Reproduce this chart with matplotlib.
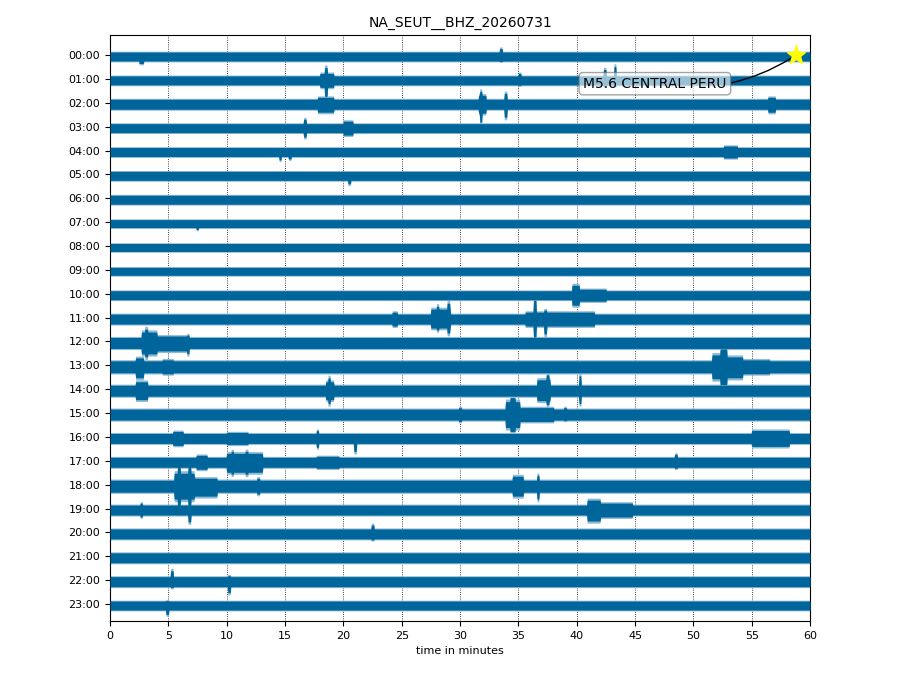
import numpy as np
import matplotlib
matplotlib.use("Agg")
import matplotlib.pyplot as plt

# station / day shown
title = "NA_SEUT__BHZ_20260731"
hour_labels = ["%02d:00" % h for h in range(24)]

# typical half-width of the noise band for each hour (pixel-ish units, 24 = one row)
baseline = [4.5, 4.5, 5.0, 4.5, 4.5, 4.5, 4.5, 4.0, 4.0, 4.0, 4.5, 5.0,
            5.5, 6.0, 5.5, 5.5, 5.0, 5.0, 6.0, 5.0, 5.0, 5.0, 5.0, 4.5]

# bursts: hour, start min, end min, up, down
bursts = [
    (0, 2.5, 2.9, 4, 7), (0, 33.4, 33.6, 8, 5),
    (1, 18.0, 19.2, 7, 7), (1, 18.4, 18.6, 13, 16),
    (1, 35.0, 35.2, 7, 5), (1, 42.3, 42.5, 11, 6), (1, 43.2, 43.4, 14, 6),
    (2, 17.8, 19.2, 7, 8), (2, 31.6, 32.2, 9, 9), (2, 31.7, 31.9, 13, 18),
    (2, 33.8, 34.0, 11, 13), (2, 56.4, 57.0, 7, 8),
    (3, 16.6, 16.8, 9, 9), (3, 20.0, 20.8, 7, 7),
    (4, 14.5, 14.7, 4, 8), (4, 15.3, 15.5, 4, 7), (4, 52.6, 53.8, 6, 6),
    (5, 20.4, 20.6, 4, 8),
    (7, 7.4, 7.6, 4, 6),
    (10, 39.6, 40.2, 10, 10), (10, 40.2, 42.5, 6, 6),
    (11, 24.2, 24.6, 7, 7), (11, 27.5, 29.2, 10, 9), (11, 28.0, 28.2, 13, 11),
    (11, 28.9, 29.1, 16, 14), (11, 35.6, 41.5, 7, 7), (11, 36.3, 36.5, 19, 18),
    (11, 37.2, 37.4, 9, 15),
    (12, 2.7, 4.0, 11, 11), (12, 3.0, 3.2, 14, 14), (12, 4.0, 6.8, 7, 8),
    (12, 6.6, 6.8, 8, 11),
    (13, 2.2, 2.9, 9, 11), (13, 4.5, 5.4, 7, 7), (13, 51.6, 52.3, 12, 12),
    (13, 52.3, 52.9, 18, 18), (13, 52.9, 54.2, 10, 11), (13, 54.2, 56.5, 7, 7),
    (14, 2.2, 3.2, 9, 9), (14, 18.5, 19.2, 9, 9), (14, 18.7, 18.9, 13, 13),
    (14, 36.6, 37.7, 11, 10), (14, 37.4, 37.6, 16, 14), (14, 40.2, 40.4, 15, 13),
    (15, 29.9, 30.1, 7, 7), (15, 33.9, 35.1, 13, 13), (15, 34.3, 34.7, 17, 17),
    (15, 35.1, 38.0, 7, 7), (15, 38.9, 39.1, 7, 6),
    (16, 5.4, 6.3, 7, 7), (16, 10.0, 11.8, 6, 6), (16, 17.7, 17.9, 8, 9),
    (16, 20.9, 21.1, 5, 13), (16, 55.0, 58.2, 8, 8),
    (17, 7.4, 8.3, 7, 7), (17, 10.0, 13.1, 9, 10), (17, 10.4, 10.6, 11, 12),
    (17, 11.6, 11.8, 11, 12), (17, 17.7, 19.6, 6, 6), (17, 48.4, 48.6, 8, 6),
    (18, 5.5, 7.2, 13, 13), (18, 5.8, 6.0, 20, 21), (18, 6.7, 6.9, 20, 21),
    (18, 7.2, 9.2, 8, 10), (18, 12.6, 12.8, 8, 8), (18, 34.5, 35.4, 10, 10),
    (18, 36.6, 36.8, 11, 13),
    (19, 2.6, 2.8, 7, 7), (19, 6.7, 6.9, 5, 12), (19, 40.9, 42.0, 10, 11),
    (19, 42.0, 44.8, 7, 7),
    (20, 22.4, 22.6, 9, 6),
    (22, 5.2, 5.4, 11, 6), (22, 10.1, 10.3, 6, 11),
    (23, 4.8, 5.0, 5, 9),
]

# event marker
event_label = "M5.6 CENTRAL PERU"
event_hour = 0
event_minute = 58.8

row_px = 24.0
offset = 1.5
minutes = np.arange(0, 60.001, 0.05)

fig = plt.figure(figsize=(9.2, 6.9), dpi=100)
ax = fig.add_axes([0.1196, 0.1, 0.7609, 0.8493])

for h in range(24):
    up = np.full(minutes.shape, baseline[h])
    dn = np.full(minutes.shape, baseline[h])
    for bh, t0, t1, bu, bd in bursts:
        if bh != h:
            continue
        m = (minutes >= t0) & (minutes <= t1)
        up[m] = np.maximum(up[m], bu)
        dn[m] = np.maximum(dn[m], bd)
    centre = h + offset / row_px
    ax.fill_between(minutes, centre - up * 1.2 / row_px, centre + dn * 1.2 / row_px,
                    color="#8dbbd6", lw=0, zorder=2)
    ax.fill_between(minutes, centre - up / row_px, centre + dn / row_px,
                    color="#00659a", lw=0, zorder=3)

for x in range(5, 60, 5):
    ax.axvline(x, color="black", ls=":", lw=0.6, zorder=1)

ax.plot(event_minute, event_hour, marker="*", color="yellow", ms=14,
        mec="yellow", zorder=6, ls="none")
ax.annotate(event_label, xy=(event_minute, event_hour), xytext=(46.7, 1.2),
            ha="center", va="center", fontsize=10, zorder=7,
            bbox=dict(boxstyle="round", fc="white", ec="0.4", alpha=0.6),
            arrowprops=dict(arrowstyle="-", color="black", lw=1,
                            connectionstyle="arc3,rad=0.2",
                            shrinkA=0, shrinkB=5))

ax.set_xlim(0, 60)
ax.set_ylim(23.71, -0.84)
ax.set_yticks(range(24))
ax.set_yticklabels(hour_labels, fontsize=8)
ax.set_xticks(range(0, 61, 5))
ax.tick_params(axis="x", labelsize=8)
ax.set_xlabel("time in minutes", fontsize=8)
ax.set_title(title, fontsize=10)

fig.savefig("out.png", dpi=100)
